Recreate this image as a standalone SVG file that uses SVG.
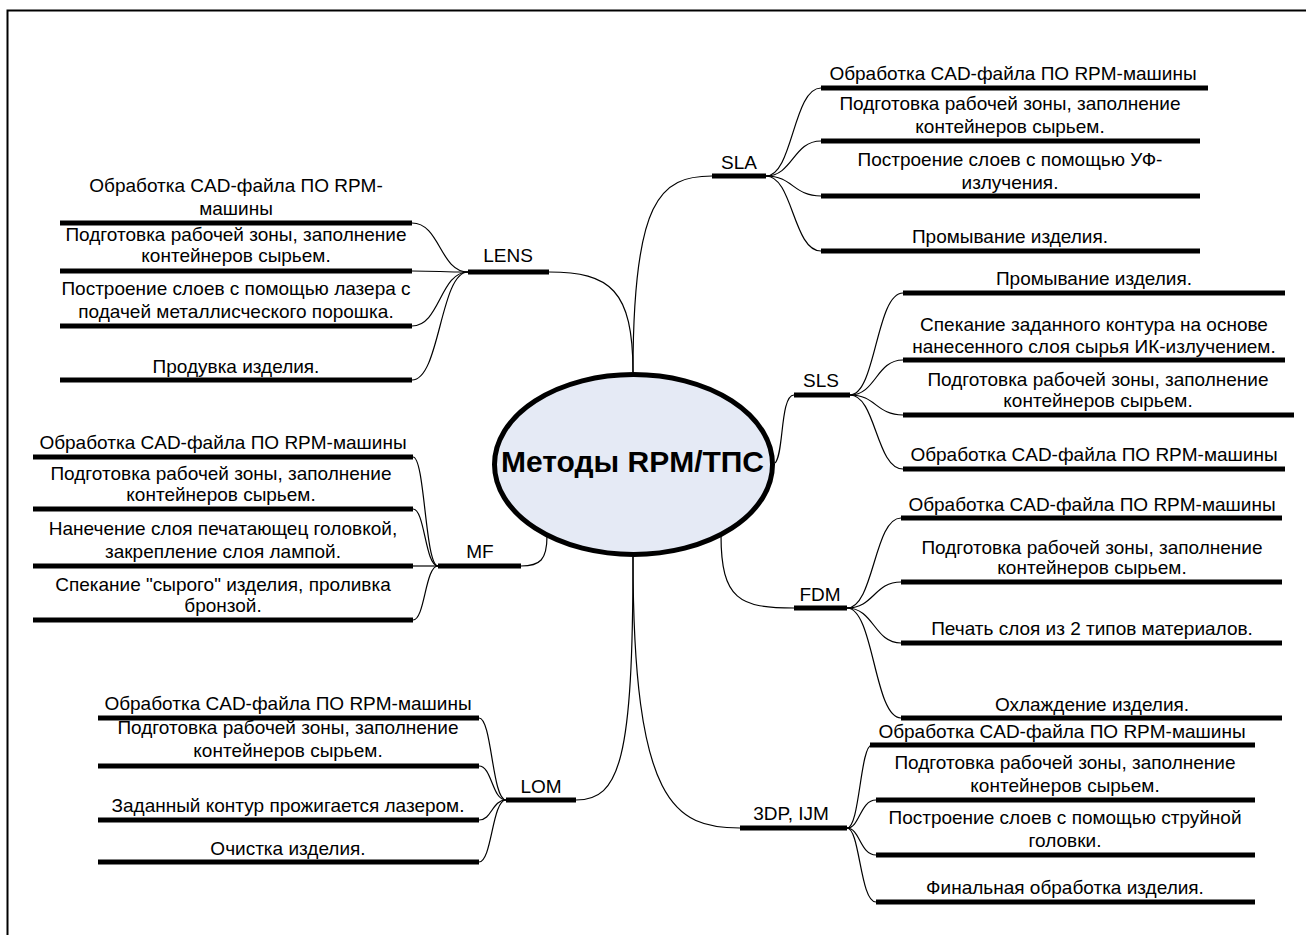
<svg xmlns="http://www.w3.org/2000/svg" width="1306" height="935" viewBox="0 0 1306 935">
<style>
.t{font-family:"Liberation Sans",Arial,sans-serif;font-size:19px;fill:#000;text-anchor:middle}
.bar{stroke:#000;stroke-width:5;fill:none}
.c{stroke:#000;stroke-width:1.2;fill:none}
.frame{stroke:#000;stroke-width:2;fill:none}
.title{font-family:"Liberation Sans",Arial,sans-serif;font-size:30px;font-weight:bold;fill:#000;text-anchor:middle}
</style>
<rect width="1306" height="935" fill="#fff"/>
<path class="frame" d="M7.5,935 V10.5 H1306"/>
<g id="connectors">
<path class="c" d="M549,272 C610,272 633,290 633,372"/>
<path class="c" d="M633,372 C633,200 660,176 712,176"/>
<path class="c" d="M775,463 C784,455 780,395 794,395"/>
<path class="c" d="M521,566 C540,566 547,560 547,536"/>
<path class="c" d="M721,535 C721,600 740,608 794,608"/>
<path class="c" d="M633,557 C633,760 620,800 576,800"/>
<path class="c" d="M633,557 C633,805 675,828 740,828"/>
<path class="c" d="M766,176 C793,176 793,88 821,88"/>
<path class="c" d="M766,176 C793,176 793,141 821,141"/>
<path class="c" d="M766,176 C793,176 793,196 821,196"/>
<path class="c" d="M766,176 C793,176 793,251 821,251"/>
<path class="c" d="M468,272 C440,272 440,223 412,223"/>
<path class="c" d="M468,272 C440,272 440,271 412,271"/>
<path class="c" d="M468,272 C440,272 440,326 412,326"/>
<path class="c" d="M468,272 C440,272 440,380 412,380"/>
<path class="c" d="M850,395 C876,395 876,293 903,293"/>
<path class="c" d="M850,395 C876,395 876,360 903,360"/>
<path class="c" d="M850,395 C876,395 876,415 903,415"/>
<path class="c" d="M850,395 C876,395 876,469 903,469"/>
<path class="c" d="M438,566 C425,566 425,457 413,457"/>
<path class="c" d="M438,566 C425,566 425,509 413,509"/>
<path class="c" d="M438,566 L413,566"/>
<path class="c" d="M438,566 C425,566 425,620 413,620"/>
<path class="c" d="M847,608 C874,608 874,518 901,518"/>
<path class="c" d="M847,608 C874,608 874,582 901,582"/>
<path class="c" d="M847,608 C874,608 874,643 901,643"/>
<path class="c" d="M847,608 C874,608 874,718 901,718"/>
<path class="c" d="M506,800 C492,800 492,718 479,718"/>
<path class="c" d="M506,800 C492,800 492,766 479,766"/>
<path class="c" d="M506,800 C492,800 492,820 479,820"/>
<path class="c" d="M506,800 C492,800 492,862 479,862"/>
<path class="c" d="M847,828 C860,828 860,745 872,745"/>
<path class="c" d="M847,828 C860,828 860,800 876,800"/>
<path class="c" d="M847,828 C860,828 860,855 876,855"/>
<path class="c" d="M847,828 C860,828 860,902 876,902"/>
</g>
<g id="center">
<ellipse cx="633.5" cy="464.5" rx="139" ry="90" fill="#e5eaf5" stroke="#000" stroke-width="5"/>
<text class="title" x="632.5" y="472">Методы RPM/ТПС</text>
</g>
<g id="sla">
<line class="bar" x1="712" y1="176" x2="766" y2="176"/>
<text class="t" x="739" y="169">SLA</text>
</g>
<g id="sla-1"><line class="bar" x1="821" y1="88" x2="1208" y2="88"/><text class="t" x="1013" y="80">Обработка CAD-файла ПО RPM-машины</text></g>
<g id="sla-2"><line class="bar" x1="821" y1="141" x2="1200" y2="141"/><text class="t" x="1010" y="110">Подготовка рабочей зоны, заполнение</text><text class="t" x="1010" y="133">контейнеров сырьем.</text></g>
<g id="sla-3"><line class="bar" x1="821" y1="196" x2="1200" y2="196"/><text class="t" x="1010" y="166">Построение слоев с помощью УФ-</text><text class="t" x="1010" y="189">излучения.</text></g>
<g id="sla-4"><line class="bar" x1="821" y1="251" x2="1200" y2="251"/><text class="t" x="1010" y="243">Промывание изделия.</text></g>
<g id="lens">
<line class="bar" x1="468" y1="272" x2="549" y2="272"/>
<text class="t" x="508" y="262">LENS</text>
</g>
<g id="lens-1"><line class="bar" x1="60" y1="223" x2="412" y2="223"/><text class="t" x="236" y="192">Обработка CAD-файла ПО RPM-</text><text class="t" x="236" y="215">машины</text></g>
<g id="lens-2"><line class="bar" x1="60" y1="271" x2="412" y2="271"/><text class="t" x="236" y="241">Подготовка рабочей зоны, заполнение</text><text class="t" x="236" y="262">контейнеров сырьем.</text></g>
<g id="lens-3"><line class="bar" x1="60" y1="326" x2="412" y2="326"/><text class="t" x="236" y="295">Построение слоев с помощью лазера с</text><text class="t" x="236" y="318">подачей металлисческого порошка.</text></g>
<g id="lens-4"><line class="bar" x1="60" y1="380" x2="412" y2="380"/><text class="t" x="236" y="373">Продувка изделия.</text></g>
<g id="sls">
<line class="bar" x1="794" y1="395" x2="850" y2="395"/>
<text class="t" x="821" y="387">SLS</text>
</g>
<g id="sls-1"><line class="bar" x1="903" y1="293" x2="1285" y2="293"/><text class="t" x="1094" y="285">Промывание изделия.</text></g>
<g id="sls-2"><line class="bar" x1="903" y1="360" x2="1285" y2="360"/><text class="t" x="1094" y="331">Спекание заданного контура на основе</text><text class="t" x="1094" y="353">нанесенного слоя сырья ИК-излучением.</text></g>
<g id="sls-3"><line class="bar" x1="903" y1="415" x2="1294" y2="415"/><text class="t" x="1098" y="386">Подготовка рабочей зоны, заполнение</text><text class="t" x="1098" y="407">контейнеров сырьем.</text></g>
<g id="sls-4"><line class="bar" x1="903" y1="469" x2="1285" y2="469"/><text class="t" x="1094" y="461">Обработка CAD-файла ПО RPM-машины</text></g>
<g id="mf">
<line class="bar" x1="438" y1="566" x2="521" y2="566"/>
<text class="t" x="480" y="558">MF</text>
</g>
<g id="mf-1"><line class="bar" x1="33" y1="457" x2="413" y2="457"/><text class="t" x="223" y="449">Обработка CAD-файла ПО RPM-машины</text></g>
<g id="mf-2"><line class="bar" x1="33" y1="509" x2="413" y2="509"/><text class="t" x="221" y="480">Подготовка рабочей зоны, заполнение</text><text class="t" x="221" y="501">контейнеров сырьем.</text></g>
<g id="mf-3"><line class="bar" x1="33" y1="566" x2="413" y2="566"/><text class="t" x="223" y="535">Нанечение слоя печатающец головкой,</text><text class="t" x="223" y="558">закрепление слоя лампой.</text></g>
<g id="mf-4"><line class="bar" x1="33" y1="620" x2="413" y2="620"/><text class="t" x="223" y="591">Спекание "сырого" изделия, проливка</text><text class="t" x="223" y="612">бронзой.</text></g>
<g id="fdm">
<line class="bar" x1="794" y1="608" x2="847" y2="608"/>
<text class="t" x="820" y="601">FDM</text>
</g>
<g id="fdm-1"><line class="bar" x1="901" y1="518" x2="1282" y2="518"/><text class="t" x="1092" y="511">Обработка CAD-файла ПО RPM-машины</text></g>
<g id="fdm-2"><line class="bar" x1="901" y1="582" x2="1282" y2="582"/><text class="t" x="1092" y="554">Подготовка рабочей зоны, заполнение</text><text class="t" x="1092" y="574">контейнеров сырьем.</text></g>
<g id="fdm-3"><line class="bar" x1="901" y1="643" x2="1282" y2="643"/><text class="t" x="1092" y="635">Печать слоя из 2 типов материалов.</text></g>
<g id="fdm-4"><line class="bar" x1="901" y1="718" x2="1282" y2="718"/><text class="t" x="1092" y="711">Охлаждение изделия.</text></g>
<g id="lom">
<line class="bar" x1="506" y1="800" x2="576" y2="800"/>
<text class="t" x="541" y="793">LOM</text>
</g>
<g id="lom-1"><line class="bar" x1="98" y1="718" x2="479" y2="718"/><text class="t" x="288" y="710">Обработка CAD-файла ПО RPM-машины</text></g>
<g id="lom-2"><line class="bar" x1="98" y1="766" x2="479" y2="766"/><text class="t" x="288" y="734">Подготовка рабочей зоны, заполнение</text><text class="t" x="288" y="757">контейнеров сырьем.</text></g>
<g id="lom-3"><line class="bar" x1="98" y1="820" x2="479" y2="820"/><text class="t" x="288" y="812">Заданный контур прожигается лазером.</text></g>
<g id="lom-4"><line class="bar" x1="98" y1="862" x2="479" y2="862"/><text class="t" x="288" y="855">Очистка изделия.</text></g>
<g id="dp3">
<line class="bar" x1="740" y1="828" x2="847" y2="828"/>
<text class="t" x="791" y="820">3DP, IJM</text>
</g>
<g id="dp3-1"><line class="bar" x1="870" y1="745" x2="1255" y2="745"/><text class="t" x="1062" y="738">Обработка CAD-файла ПО RPM-машины</text></g>
<g id="dp3-2"><line class="bar" x1="876" y1="800" x2="1255" y2="800"/><text class="t" x="1065" y="769">Подготовка рабочей зоны, заполнение</text><text class="t" x="1065" y="792">контейнеров сырьем.</text></g>
<g id="dp3-3"><line class="bar" x1="876" y1="855" x2="1255" y2="855"/><text class="t" x="1065" y="824">Построение слоев с помощью струйной</text><text class="t" x="1065" y="847">головки.</text></g>
<g id="dp3-4"><line class="bar" x1="876" y1="902" x2="1255" y2="902"/><text class="t" x="1065" y="894">Финальная обработка изделия.</text></g>
</svg>
